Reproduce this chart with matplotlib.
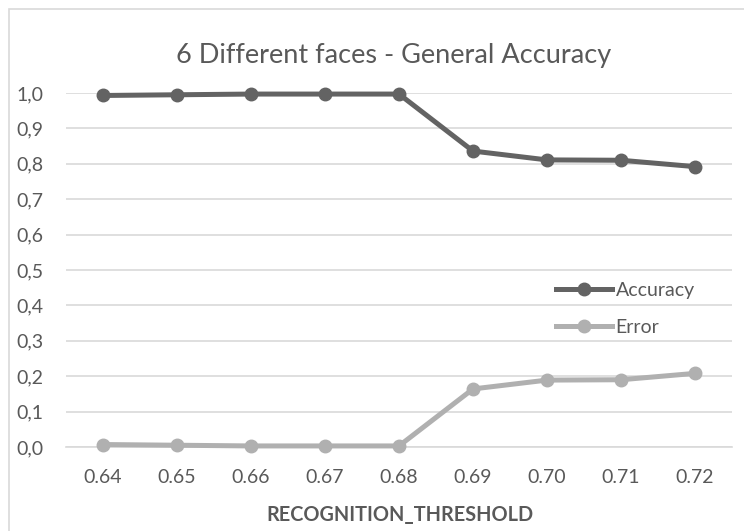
import numpy as np
import matplotlib.pyplot as plt
from matplotlib.patches import Rectangle

thresholds = ['0.64', '0.65', '0.66', '0.67', '0.68', '0.69', '0.70', '0.71', '0.72']
accuracy = [0.993, 0.995, 0.997, 0.997, 0.997, 0.836, 0.811, 0.810, 0.792]
error = [0.007, 0.005, 0.003, 0.003, 0.003, 0.164, 0.189, 0.190, 0.208]
yticks = [0.0, 0.1, 0.2, 0.3, 0.4, 0.5, 0.6, 0.7, 0.8, 0.9, 1.0]

plt.rcParams['font.family'] = ['Lato', 'DejaVu Sans']
text_color = '#595959'
grid_color = '#d9d9d9'

fig = plt.figure(figsize=(7.44, 5.31), dpi=100)
ax = fig.add_axes([66/744, 84/531, 666/744, 354/531])

# chart border (Excel style)
fig.patches.append(Rectangle((9/744, -0.05), 1.0, 1.05 - 9/531, transform=fig.transFigure,
                             fill=False, edgecolor=grid_color, linewidth=1.2))

x = np.arange(len(thresholds))
ax.plot(x, accuracy, '-o', color='#636363', linewidth=3.6, markersize=9,
        label='Accuracy', clip_on=False, zorder=3)
ax.plot(x, error, '-o', color='#b0b0b0', linewidth=3.6, markersize=9,
        label='Error', clip_on=False, zorder=3)

ax.set_xlim(-0.5, len(thresholds) - 0.5)
ax.set_ylim(0, 1.0)
ax.set_yticks(yticks)
ax.set_yticklabels([f'{v:.1f}'.replace('.', ',') for v in yticks])
ax.set_xticks(x)
ax.set_xticklabels(thresholds)
ax.tick_params(length=0, labelsize=14, colors=text_color)
ax.tick_params(axis='y', pad=16)
ax.tick_params(axis='x', pad=16)
ax.grid(axis='y', color=grid_color, linewidth=1.2)
ax.set_axisbelow(True)
for s in ['top', 'right', 'left']:
    ax.spines[s].set_visible(False)
ax.spines['bottom'].set_color(grid_color)
ax.spines['bottom'].set_linewidth(1.2)

fig.text(394/744, 1 - 55/531, '6 Different faces - General Accuracy', ha='center', va='center',
         fontsize=19.5, color=text_color)
fig.text(400/744, 1 - 515/531, 'RECOGNITION_THRESHOLD', ha='center', va='center',
         fontsize=14.3, fontweight='bold', color=text_color)

leg = ax.legend(loc='center left', bbox_to_anchor=(0.71, 0.39), frameon=False,
                fontsize=14, handlelength=2.85, handletextpad=0.2, labelspacing=1.0,
                labelcolor=text_color)

fig.savefig('out.png', dpi=100)
